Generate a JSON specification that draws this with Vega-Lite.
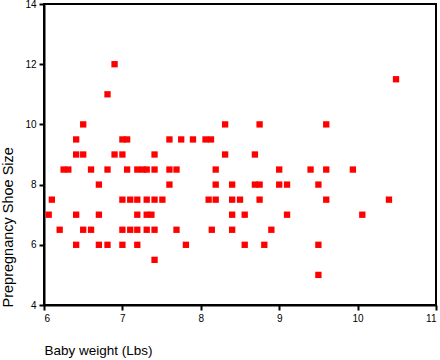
{
  "$schema": "https://vega.github.io/schema/vega-lite/v6.json",
  "width": 392,
  "height": 301,
  "autosize": "none",
  "padding": {"left": 44, "top": 4, "right": 4, "bottom": 55},
  "background": "white",
  "config": {
    "font": "Liberation Sans",
    "view": {"stroke": "black", "strokeWidth": 2},
    "axis": {"grid": false, "domainColor": "black", "domainWidth": 2, "tickColor": "black", "tickWidth": 2, "tickSize": 5, "labelColor": "black", "labelFontSize": 10, "titleColor": "black", "titleFontSize": 13.5, "titleFontWeight": "normal"}
  },
  "data": {"values": [
    {"w": 6.9, "s": 12},
    {"w": 10.49, "s": 11.5},
    {"w": 6.81, "s": 11},
    {"w": 6.5, "s": 10}, {"w": 8.31, "s": 10}, {"w": 8.75, "s": 10}, {"w": 9.6, "s": 10},
    {"w": 6.41, "s": 9.5}, {"w": 7.0, "s": 9.5}, {"w": 7.06, "s": 9.5}, {"w": 7.6, "s": 9.5}, {"w": 7.75, "s": 9.5}, {"w": 7.9, "s": 9.5}, {"w": 8.06, "s": 9.5}, {"w": 8.13, "s": 9.5},
    {"w": 6.41, "s": 9}, {"w": 6.5, "s": 9}, {"w": 6.9, "s": 9}, {"w": 7.0, "s": 9}, {"w": 7.41, "s": 9}, {"w": 8.31, "s": 9}, {"w": 8.69, "s": 9},
    {"w": 6.25, "s": 8.5}, {"w": 6.31, "s": 8.5}, {"w": 6.6, "s": 8.5}, {"w": 6.81, "s": 8.5}, {"w": 7.06, "s": 8.5}, {"w": 7.19, "s": 8.5}, {"w": 7.26, "s": 8.5}, {"w": 7.31, "s": 8.5}, {"w": 7.41, "s": 8.5}, {"w": 7.6, "s": 8.5}, {"w": 7.69, "s": 8.5}, {"w": 8.19, "s": 8.5}, {"w": 9.0, "s": 8.5}, {"w": 9.4, "s": 8.5}, {"w": 9.6, "s": 8.5}, {"w": 9.94, "s": 8.5},
    {"w": 6.7, "s": 8}, {"w": 7.6, "s": 8}, {"w": 8.19, "s": 8}, {"w": 8.4, "s": 8}, {"w": 8.69, "s": 8}, {"w": 8.75, "s": 8}, {"w": 9.0, "s": 8}, {"w": 9.1, "s": 8}, {"w": 9.5, "s": 8},
    {"w": 6.1, "s": 7.5}, {"w": 7.0, "s": 7.5}, {"w": 7.1, "s": 7.5}, {"w": 7.19, "s": 7.5}, {"w": 7.31, "s": 7.5}, {"w": 7.41, "s": 7.5}, {"w": 7.51, "s": 7.5}, {"w": 8.1, "s": 7.5}, {"w": 8.19, "s": 7.5}, {"w": 8.4, "s": 7.5}, {"w": 8.5, "s": 7.5}, {"w": 8.75, "s": 7.5}, {"w": 9.6, "s": 7.5}, {"w": 10.4, "s": 7.5},
    {"w": 6.06, "s": 7}, {"w": 6.41, "s": 7}, {"w": 6.7, "s": 7}, {"w": 7.19, "s": 7}, {"w": 7.31, "s": 7}, {"w": 7.37, "s": 7}, {"w": 8.4, "s": 7}, {"w": 8.56, "s": 7}, {"w": 9.1, "s": 7}, {"w": 10.06, "s": 7},
    {"w": 6.2, "s": 6.5}, {"w": 6.5, "s": 6.5}, {"w": 6.6, "s": 6.5}, {"w": 7.0, "s": 6.5}, {"w": 7.1, "s": 6.5}, {"w": 7.19, "s": 6.5}, {"w": 7.31, "s": 6.5}, {"w": 7.41, "s": 6.5}, {"w": 7.69, "s": 6.5}, {"w": 8.14, "s": 6.5}, {"w": 8.4, "s": 6.5}, {"w": 8.9, "s": 6.5},
    {"w": 6.41, "s": 6}, {"w": 6.7, "s": 6}, {"w": 6.81, "s": 6}, {"w": 7.0, "s": 6}, {"w": 7.19, "s": 6}, {"w": 7.81, "s": 6}, {"w": 8.56, "s": 6}, {"w": 8.81, "s": 6}, {"w": 9.5, "s": 6},
    {"w": 7.41, "s": 5.5},
    {"w": 9.5, "s": 5}
  ]},
  "mark": {"type": "square", "size": 40, "color": "#ff0000", "opacity": 1},
  "encoding": {
    "x": {"field": "w", "type": "quantitative", "scale": {"domain": [6, 11], "nice": false, "zero": false},
      "axis": {"values": [6, 7, 8, 9, 10, 11], "title": "Baby weight (Lbs)", "titleAnchor": "start", "titleAlign": "left", "titleX": 0, "titleY": 45, "titleBaseline": "middle", "labelPadding": 3}},
    "y": {"field": "s", "type": "quantitative", "scale": {"domain": [4, 14], "nice": false, "zero": false},
      "axis": {"values": [4, 6, 8, 10, 12, 14], "title": "Prepregnancy Shoe Size", "titleFontSize": 14.5, "titleAnchor": "start", "titleX": -36, "titleY": 303, "titleAngle": -90, "titleAlign": "left", "titleBaseline": "middle", "labelPadding": 3}}
  }
}
